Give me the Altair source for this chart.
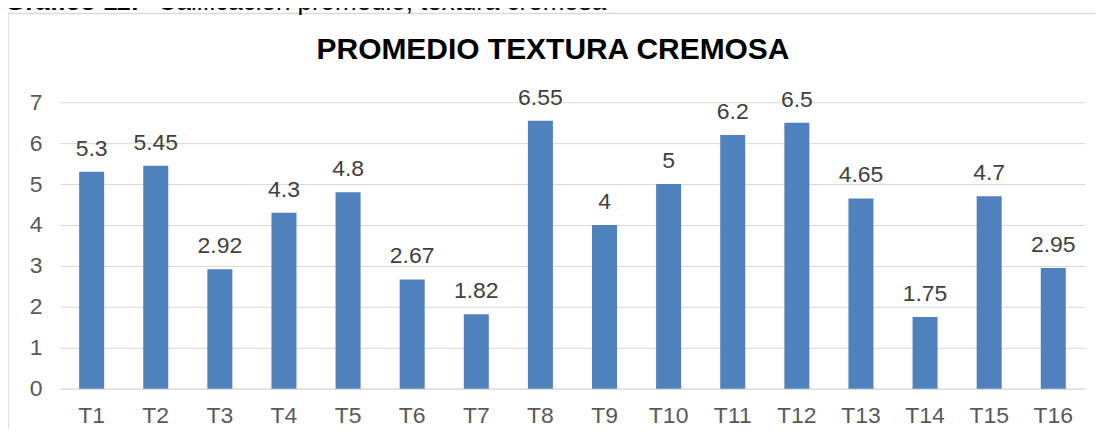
import altair as alt
import pandas as pd

categories = [f"T{i}" for i in range(1, 17)]
values = [5.3, 5.45, 2.92, 4.3, 4.8, 2.67, 1.82, 6.55, 4, 5, 6.2, 6.5, 4.65, 1.75, 4.7, 2.95]
labels = ["5.3", "5.45", "2.92", "4.3", "4.8", "2.67", "1.82", "6.55", "4", "5", "6.2", "6.5", "4.65", "1.75", "4.7", "2.95"]
y_ticks = [0, 1, 2, 3, 4, 5, 6, 7]
title_text = "PROMEDIO TEXTURA CREMOSA"
caption_bold = "Gráfico 11:"
caption_rest = "Calificación promedio, textura cremosa"

df = pd.DataFrame({"cat": categories, "val": values, "lab": labels})

FONT = "Liberation Sans"
W, H = 1027, 287

x_enc = alt.X("cat:N", sort=categories,
              scale=alt.Scale(paddingInner=0.61, paddingOuter=0.3),
              axis=alt.Axis(title=None, labelAngle=0, labelFont=FONT, labelFontSize=23,
                            labelColor="#595959", ticks=False, domainColor="#D9D9D9",
                            labelPadding=16))
y_enc = alt.Y("val:Q", scale=alt.Scale(domain=[0, 7], nice=False),
              axis=alt.Axis(title=None, values=y_ticks, labelFont=FONT, labelFontSize=23,
                            labelColor="#595959", ticks=False, domain=False,
                            gridColor="#D9D9D9", gridWidth=1, labelPadding=18))

one = pd.DataFrame({"k": [0]})

frame = alt.Chart(one).mark_rect(
    fill=None, stroke="#D9D9D9", strokeWidth=1.5
).encode(x=alt.value(-52), x2=alt.value(1045), y=alt.value(-89), y2=alt.value(360))

cap1 = alt.Chart(pd.DataFrame({"t": [caption_bold]})).mark_text(
    font=FONT, fontSize=26, fontWeight="bold", align="left", baseline="alphabetic", color="#000000"
).encode(text="t:N", x=alt.value(-55), y=alt.value(-92))
cap2 = alt.Chart(pd.DataFrame({"t": [caption_rest]})).mark_text(
    font=FONT, fontSize=26, align="left", baseline="alphabetic", color="#000000"
).encode(text="t:N", x=alt.value(98), y=alt.value(-92))

title = alt.Chart(pd.DataFrame({"t": [title_text]})).mark_text(
    font=FONT, fontSize=30, fontWeight="bold", align="center", baseline="middle", color="#000000"
).encode(text="t:N", x=alt.value(494), y=alt.value(-52))

bars = alt.Chart(df).mark_bar(color="#4F81BD").encode(x=x_enc, y=y_enc)
text = alt.Chart(df).mark_text(
    font=FONT, fontSize=23, color="#404040", baseline="alphabetic", dy=-16
).encode(x=alt.X("cat:N", sort=categories), y="val:Q", text="lab:N")

chart = alt.layer(frame, bars, text, title, cap1, cap2).properties(
    width=W, height=H,
    autosize=alt.AutoSizeParams(type="none"),
    padding={"left": 52, "top": 94, "right": 10, "bottom": 40},
).configure_view(stroke=None).configure_axis(labelFont=FONT)

chart.save("out.html", embed_options={"renderer": "svg", "actions": False})
